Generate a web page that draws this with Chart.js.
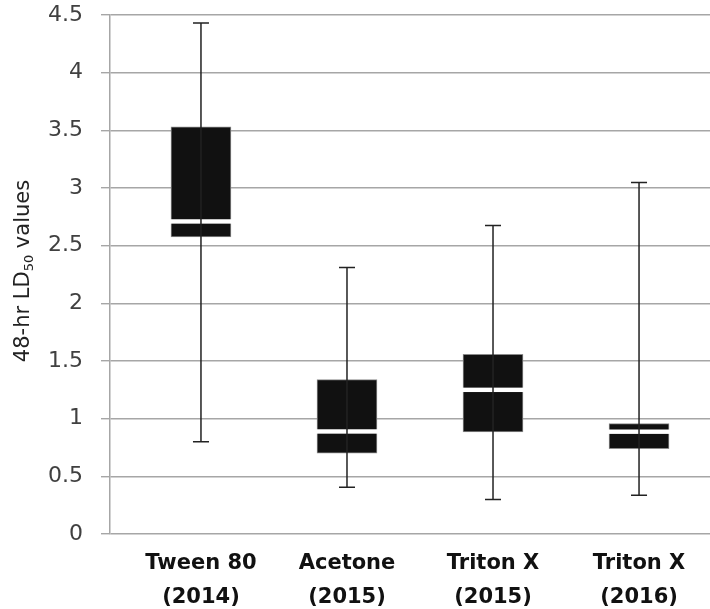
<!DOCTYPE html>
<html>
<head>
<meta charset="utf-8">
<script src="https://cdn.jsdelivr.net/npm/chart.js@4/dist/chart.umd.min.js"></script>
<style>
  html, body { margin: 0; padding: 0; background: #fff; }
  #wrap { width: 710px; height: 609px; }
</style>
</head>
<body>
<div id="wrap"><canvas id="c" width="710" height="609"></canvas></div>
<script>
// ---- data ----
const categories = [["Tween 80", "(2014)"], ["Acetone", "(2015)"], ["Triton X", "(2015)"], ["Triton X", "(2016)"]];
const minValues    = [0.80, 0.405, 0.30, 0.336];
const q1Values     = [2.576, 0.70, 0.885, 0.74];
const medianValues = [2.71, 0.889, 1.25, 0.887];
const q3Values     = [3.53, 1.338, 1.558, 0.957];
const maxValues    = [4.43, 2.31, 2.674, 3.047];
const yTicks = [0, 0.5, 1, 1.5, 2, 2.5, 3, 3.5, 4, 4.5];
const yTitleMain = "48-hr LD";
const yTitleSub = "50";
const yTitleEnd = " values";

const boxPlugin = {
  id: 'boxExtras',
  afterDatasetsDraw(chart) {
    const { ctx, scales: { x, y } } = chart;
    const meta = chart.getDatasetMeta(0);
    ctx.save();
    categories.forEach((c, i) => {
      const bar = meta.data[i];
      const cx = x.getPixelForValue(i);
      const half = bar.width / 2;
      // median gap (white)
      const my = y.getPixelForValue(medianValues[i]);
      ctx.fillStyle = '#ffffff';
      ctx.fillRect(cx - half - 1, my - 2.2, 2 * half + 2, 4.4);
      // whisker
      const ty = y.getPixelForValue(maxValues[i]);
      const by = y.getPixelForValue(minValues[i]);
      ctx.strokeStyle = '#222222';
      ctx.lineWidth = 1.5;
      ctx.beginPath();
      ctx.moveTo(cx, ty); ctx.lineTo(cx, by);
      ctx.moveTo(cx - 8, ty); ctx.lineTo(cx + 8, ty);
      ctx.moveTo(cx - 8, by); ctx.lineTo(cx + 8, by);
      ctx.stroke();
    });
    ctx.restore();
  },
  afterDraw(chart) {
    const { ctx } = chart;
    ctx.save();
    ctx.translate(21, 271);
    ctx.rotate(-Math.PI / 2);
    ctx.fillStyle = '#222222';
    ctx.textBaseline = 'alphabetic';
    const mainFont = '21px "DejaVu Sans"';
    const subFont = '13px "DejaVu Sans"';
    ctx.font = mainFont;
    const w1 = ctx.measureText(yTitleMain).width;
    const w3 = ctx.measureText(yTitleEnd).width;
    ctx.font = subFont;
    const w2 = ctx.measureText(yTitleSub).width;
    const total = w1 + w2 + w3;
    let px = -total / 2;
    const base = 8;
    ctx.font = mainFont;
    ctx.fillText(yTitleMain, px, base); px += w1;
    ctx.font = subFont;
    ctx.fillText(yTitleSub, px, base + 4); px += w2;
    ctx.font = mainFont;
    ctx.fillText(yTitleEnd, px, base);
    ctx.restore();
  }
};

new Chart(document.getElementById('c'), {
  type: 'bar',
  data: {
    datasets: [{
      data: categories.map((c, i) => ({ x: i, y: [q1Values[i], q3Values[i]] })),
      backgroundColor: '#111111',
      borderColor: '#8a8a8a',
      borderWidth: 1,
      borderSkipped: false,
      barThickness: 60
    }]
  },
  options: {
    responsive: false,
    animation: false,
    layout: { padding: { top: 15, right: 0, bottom: 0, left: 0 } },
    plugins: { legend: { display: false }, tooltip: { enabled: false } },
    scales: {
      x: {
        type: 'linear',
        offset: false,
        min: -0.623,
        max: 3.486,
        grid: { display: false, drawTicks: false },
        border: { display: false },
        afterBuildTicks: (s) => { s.ticks = categories.map((c, i) => ({ value: i })); },
        afterFit: (s) => { s.height = 75; s.paddingLeft = 0; s.paddingRight = 0; },
        ticks: {
          autoSkip: false,
          maxRotation: 0,
          padding: 13,
          color: '#111111',
          font: { family: '"DejaVu Sans"', size: 21, weight: 'bold', lineHeight: 1.6 },
          callback: (v) => categories[v]
        }
      },
      y: {
        min: 0,
        max: 4.5,
        afterBuildTicks: (s) => { s.ticks = yTicks.map(v => ({ value: v })); },
        afterFit: (s) => { s.width = 110; s.paddingTop = 0; s.paddingBottom = 0; },
        grid: { color: '#a6a6a6', lineWidth: 1.4, tickLength: 9 },
        border: { color: '#a6a6a6', width: 1.5 },
        ticks: {
          padding: 18,
          color: '#404040',
          font: { family: '"DejaVu Sans"', size: 22 },
          callback: (v) => String(v)
        }
      }
    }
  },
  plugins: [boxPlugin]
});
</script>
</body>
</html>
